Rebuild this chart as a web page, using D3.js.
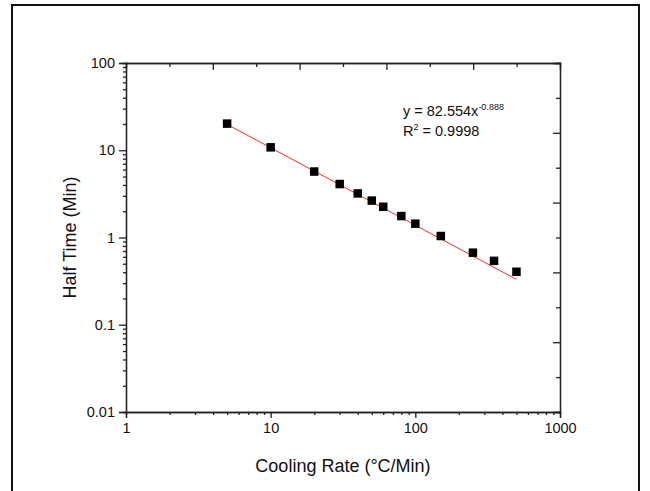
<!DOCTYPE html>
<html>
<head>
<meta charset="utf-8">
<script src="https://cdn.jsdelivr.net/npm/d3@7"></script>
<style>
  body { margin: 0; background: #fff; }
  svg { display: block; font-family: "Liberation Sans", Arial, sans-serif; }
  .axis path, .axis line { stroke: #222; stroke-width: 1.3; }
  .axis text { font-size: 14.5px; fill: #111; }
</style>
</head>
<body>
<div id="chart"></div>
<script>
// cooling rate (°C/min) and half crystallization time (min)
const coolingRate = [5, 10, 20, 30, 40, 50, 60, 80, 100, 150, 250, 350, 500];
const halfTime = [20.2, 10.8, 5.7, 4.1, 3.2, 2.65, 2.25, 1.76, 1.44, 1.04, 0.67, 0.54, 0.405];

// power-law fit, drawn between its end points
const fitX = [5, 500];
const fitY = [19.77, 0.331];

const xMajor = [1, 10, 100, 1000];
const yMajor = [0.01, 0.1, 1, 10, 100];

const width = 650;
const height = 491;
const margin = { left: 126, right: 90, top: 63, bottom: 79 };

const svg = d3
  .select("#chart")
  .append("svg")
  .attr("width", width)
  .attr("height", height);

// outer frame
svg
  .append("rect")
  .attr("x", 12)
  .attr("y", 5)
  .attr("width", 627)
  .attr("height", 500)
  .attr("fill", "none")
  .attr("stroke", "#111")
  .attr("stroke-width", 2);

const xScale = d3
  .scaleLog()
  .domain([1, 1000])
  .range([margin.left, width - margin.right]);

const yScale = d3
  .scaleLog()
  .domain([0.01, 100])
  .range([height - margin.bottom, margin.top]);

// minor ticks 2..9 in every decade
function minors(lo, hi) {
  const out = [];
  for (let p = lo; p < hi; p *= 10) {
    for (let k = 2; k < 10; k++) out.push(+(p * k).toPrecision(3));
  }
  return out;
}

const fmt = (d) => (d < 1 ? d3.format("")(d) : d3.format("d")(d));

// bottom axis
const bottom = svg
  .append("g")
  .attr("class", "axis")
  .attr("transform", `translate(0, ${height - margin.bottom})`);
bottom.call(
  d3.axisBottom(xScale).tickValues(minors(1, 1000)).tickSize(3).tickFormat("")
);
bottom
  .append("g")
  .call(
    d3.axisBottom(xScale).tickValues(xMajor).tickSize(6).tickPadding(5).tickFormat(fmt)
  );

// left axis
const left = svg
  .append("g")
  .attr("class", "axis")
  .attr("transform", `translate(${margin.left}, 0)`);
left.call(
  d3.axisLeft(yScale).tickValues(minors(0.01, 100)).tickSize(3).tickFormat("")
);
left
  .append("g")
  .call(
    d3.axisLeft(yScale).tickValues(yMajor).tickSize(7).tickPadding(4).tickFormat(fmt)
  );

// top and right axes: evenly spaced inward ticks
const topScale = d3.scaleLinear().domain([0, 10]).range(xScale.range());
const rightScale = d3.scaleLinear().domain([0, 10]).range(yScale.range());

const topAxis = svg
  .append("g")
  .attr("class", "axis")
  .attr("transform", `translate(0, ${margin.top})`);
topAxis.call(
  d3.axisTop(topScale).tickValues([1, 3, 5, 7, 9]).tickSize(-4).tickFormat("")
);
topAxis
  .append("g")
  .call(d3.axisTop(topScale).tickValues([2, 4, 6, 8]).tickSize(-7).tickFormat(""));

const rightAxis = svg
  .append("g")
  .attr("class", "axis")
  .attr("transform", `translate(${width - margin.right}, 0)`);
rightAxis.call(
  d3.axisRight(rightScale).tickValues([1, 3, 5, 7, 9]).tickSize(-4).tickFormat("")
);
rightAxis
  .append("g")
  .call(d3.axisRight(rightScale).tickValues([2, 4, 6, 8]).tickSize(-7).tickFormat(""));

svg.selectAll(".axis .domain").attr("stroke-width", 1.6);

// fit line
const line = d3
  .line()
  .x((d) => xScale(d[0]))
  .y((d) => yScale(d[1]));

svg
  .append("path")
  .datum(d3.zip(fitX, fitY))
  .attr("d", line)
  .attr("fill", "none")
  .attr("stroke", "#ff2a2a")
  .attr("stroke-width", 1);

// data points
const size = 8.5;
svg
  .selectAll(".pt")
  .data(d3.zip(coolingRate, halfTime))
  .enter()
  .append("rect")
  .attr("class", "pt")
  .attr("x", (d) => xScale(d[0]) - size / 2)
  .attr("y", (d) => yScale(d[1]) - size / 2)
  .attr("width", size)
  .attr("height", size)
  .attr("fill", "#000");

// equation
const eq = svg.append("g").attr("font-size", 14.5).attr("fill", "#111");
const t1 = eq.append("text").attr("x", 403).attr("y", 116);
t1.append("tspan").text("y = 82.554x");
t1.append("tspan").attr("dy", -6).attr("font-size", 9).text("-0.888");

const t2 = eq.append("text").attr("x", 403).attr("y", 136);
t2.append("tspan").text("R");
t2.append("tspan").attr("dy", -6).attr("font-size", 9).text("2");
t2.append("tspan").attr("dy", 6).text(" = 0.9998");

// axis titles
svg
  .append("text")
  .attr("x", (margin.left + width - margin.right) / 2)
  .attr("y", 472)
  .attr("text-anchor", "middle")
  .attr("font-size", 18)
  .attr("fill", "#111")
  .text("Cooling Rate (°C/Min)");

svg
  .append("text")
  .attr("transform", `translate(76, ${(margin.top + height - margin.bottom) / 2}) rotate(-90)`)
  .attr("text-anchor", "middle")
  .attr("font-size", 18)
  .attr("fill", "#111")
  .text("Half Time (Min)");
</script>
</body>
</html>
